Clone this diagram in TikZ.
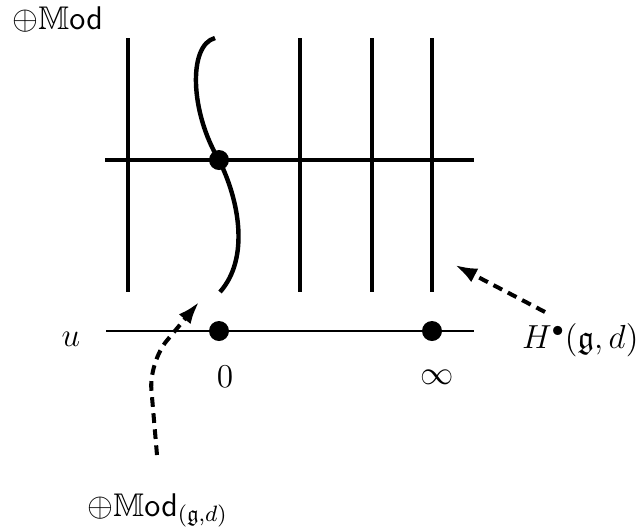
\documentclass[tikz,border=0pt]{standalone}
\usepackage{amsmath,amssymb}
\usepackage{tikz}
\usetikzlibrary{arrows.meta}

\newcommand{\Modsym}{\oplus\mathbb{M}\textsf{od}}

\begin{document}
\begin{tikzpicture}[
  x=0.36pt, y=-0.36pt,
  wall/.style={line width=1.6pt},
  base/.style={line width=0.5pt},
  dot/.style={circle, fill, inner sep=0pt, minimum size=7.2pt},
  lbl/.style={inner sep=0pt, font=\fontsize{11.8}{14}\selectfont},
  dasharr/.style={-{Latex[length=8pt,width=5.5pt]}, dash pattern=on 3.5pt off 2.3pt,
                  line width=1.45pt}
]
\useasboundingbox (0,0) rectangle (641,531);

% vertical fibres
\foreach \x/\n in {128/a, 300/b, 372/c, 432/d} {
  \coordinate (\n top) at (\x,38);
  \coordinate (\n bot) at (\x,292);
  \draw[wall] (\n top) -- (\n bot);
}

% horizontal section and special point
\coordinate (hl) at (105,160);
\coordinate (hr) at (474,160);
\draw[wall] (hl) -- (hr);
\node[dot] (cross) at (219,160) {};

% bent fibre over 0
\coordinate (ctop) at (215,38);
\coordinate (cbot) at (220,292);
\draw[wall] (ctop) .. controls (188,45) and (190,112) .. (cross.center)
            .. controls (239,200) and (250,258) .. (cbot);

% base line
\coordinate (bl) at (106,331);
\coordinate (br) at (474,331);
\draw[base] (bl) -- (br);
\node[dot] (p0) at (219,331) {};
\node[dot] (pinf) at (432,331) {};

% labels
\node[lbl] (u) at (71,339) {$u$};
\node[lbl] (zero) at (225,377) {$0$};
\node[lbl] (inf) at (437,377) {$\infty$};
\node[lbl, anchor=east] (coh) at (639,340) {$H^{\bullet}(\mathfrak{g},d)$};
\node[lbl, anchor=west] (modtop) at (12,20) {$\Modsym$};
\node[lbl, anchor=west] (modgd) at (87,510) {$\Modsym_{(\mathfrak{g},d)}$};

% pointers
\coordinate (hs) at (545,312);
\coordinate (ht) at (455,265);
\draw[dasharr] (hs) -- (ht);
\coordinate (ms) at (157,455);
\coordinate (mk) at (149,362);
\coordinate (mt) at (199,302);
\draw[dasharr, rounded corners=10pt] (ms) -- (mk) -- (mt);
\end{tikzpicture}
\end{document}
